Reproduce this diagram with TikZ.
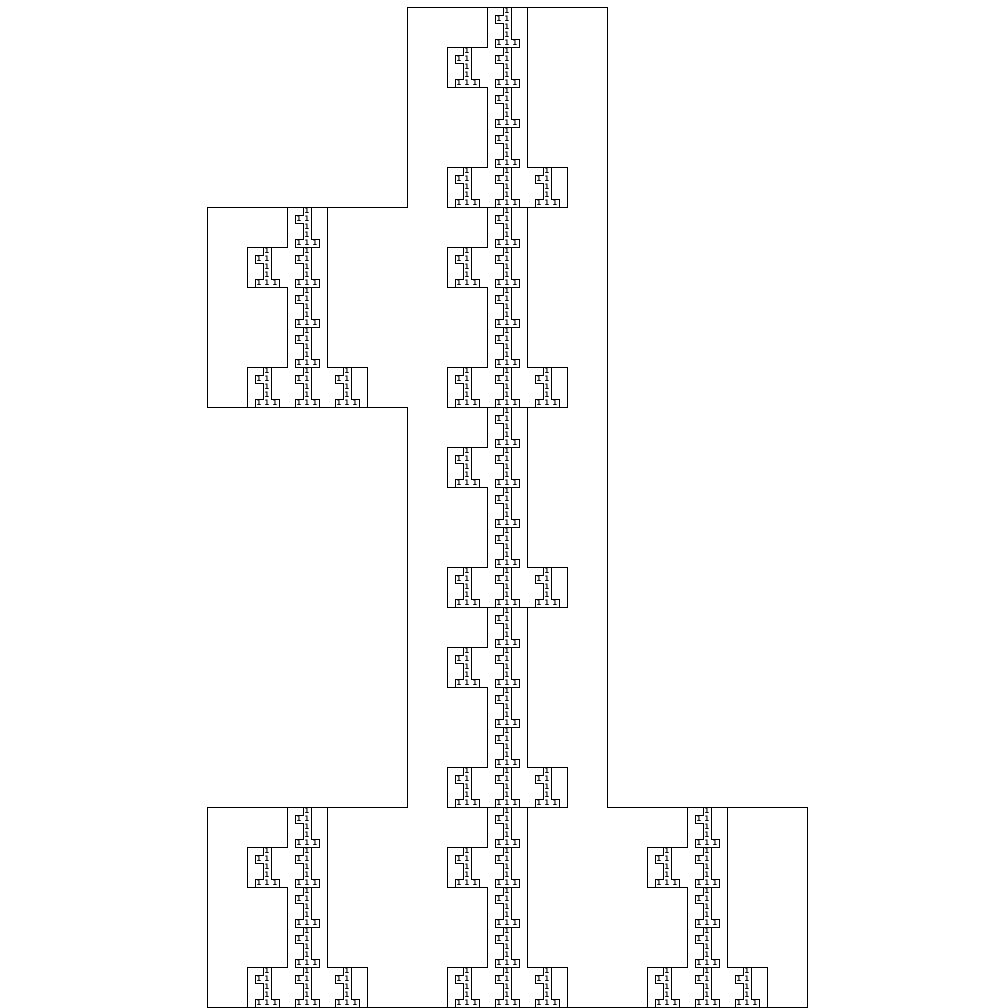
\documentclass[tikz,border=0pt]{standalone}
\usepackage{fontspec}
\newfontfamily\ziffernfont{DejaVu Sans Mono}

% Zellen der Eins (Spalte/Zeile von unten)
\def\zellen{1/4,0/3,1/3,1/2,1/1,0/0,1/0,2/0}

\tikzset{
  ziffer/.style={font=\ziffernfont\bfseries\fontsize{6.5}{6.5}\selectfont, inner sep=0pt},
  umriss/.style={line width=0.7pt, line join=miter}
}

% Umriss einer Eins: #1,#2 = linke untere Ecke, #3 = Zellgroesse
\newcommand{\einsumriss}[3]{%
  \draw[umriss] (#1,#2) -- ++(3*#3,0) -- ++(0,#3) -- ++(-#3,0) -- ++(0,4*#3)
    -- ++(-#3,0) -- ++(0,-#3) -- ++(-#3,0) -- ++(0,-#3) -- ++(#3,0)
    -- ++(0,-2*#3) -- ++(-#3,0) -- cycle;
}

\begin{document}
\begin{tikzpicture}[x=0.03cm,y=0.03cm]
  \useasboundingbox (-207,-1) rectangle (801,1007);
  % Stufe 3
  \einsumriss{0}{0}{200}
  \foreach \a/\b [count=\i] in \zellen {
    % Stufe 2
    \pgfmathsetmacro\xa{200*\a+40}
    \pgfmathsetmacro\ya{200*\b}
    \einsumriss{\xa}{\ya}{40}
    \foreach \c/\d [count=\j] in \zellen {
      % Stufe 1
      \pgfmathsetmacro\xb{\xa+40*\c+8}
      \pgfmathsetmacro\yb{\ya+40*\d}
      \einsumriss{\xb}{\yb}{8}
      % Ziffern
      \foreach \e/\f [count=\k] in \zellen
        \node[ziffer] (n\i\j\k) at (\xb+8*\e+4,\yb+8*\f+4) {1};
    }
  }
\end{tikzpicture}
\end{document}
